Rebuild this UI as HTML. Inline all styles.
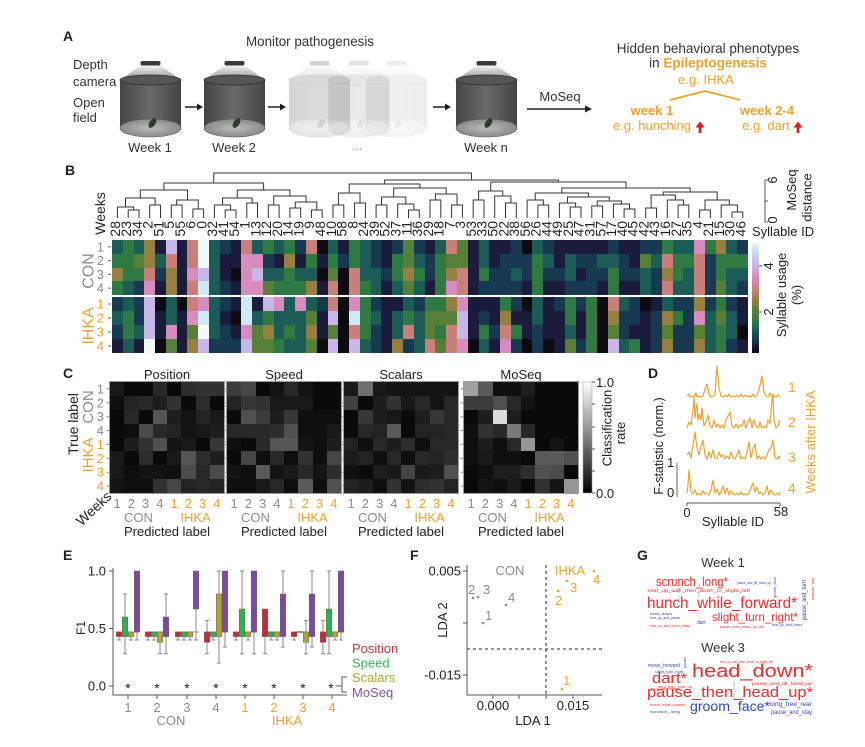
<!DOCTYPE html>
<html><head><meta charset="utf-8">
<style>
html,body{margin:0;padding:0;background:#fff}
body{width:865px;height:747px;position:relative;overflow:hidden;font-family:"Liberation Sans",Arial,sans-serif}
.hm{position:absolute;width:636px;display:grid;grid-template-columns:repeat(59,1fr);grid-template-rows:repeat(4,1fr)}
.cm{position:absolute;top:382px;width:114px;height:111px;display:grid;grid-template-columns:repeat(8,1fr);grid-template-rows:repeat(8,1fr);outline:1px solid #9a9a9a}
i{display:block}
.k0{background:#0d0a12}.k1{background:#1b1c3c}.k2{background:#173a52}.k3{background:#1b5c56}.k4{background:#2e7a42}.k5{background:#567f38}.k6{background:#957f41}.k7{background:#c9807a}.k8{background:#d88bbe}.k9{background:#c9b7ea}.ka{background:#cdeaf5}.kb{background:#f2fbf8}
.g0a{background:#0a0a0a}.g0f{background:#0f0f0f}.g14{background:#141414}.g19{background:#191919}.g1e{background:#1e1e1e}.g23{background:#232323}.g28{background:#282828}.g2d{background:#2d2d2d}.g32{background:#323232}.g37{background:#373737}.g3c{background:#3c3c3c}.g41{background:#414141}.g46{background:#464646}.g4b{background:#4b4b4b}.g50{background:#505050}.g55{background:#555555}.g5a{background:#5a5a5a}.g6e{background:#6e6e6e}.g78{background:#787878}.g96{background:#969696}.ga0{background:#a0a0a0}.gdc{background:#dcdcdc}
</style></head>
<body>
<svg width="865" height="747" style="position:absolute;left:0;top:0" font-family="'Liberation Sans',Arial,sans-serif" fill="#222">
<defs>
<linearGradient id="cone" x1="0" y1="0" x2="0" y2="1"><stop offset="0" stop-color="#f4f4f4"/><stop offset="1" stop-color="#8a8a8a"/></linearGradient>
<linearGradient id="body" x1="0" y1="0" x2="1" y2="0"><stop offset="0" stop-color="#444"/><stop offset=".5" stop-color="#6a6a6a"/><stop offset="1" stop-color="#444"/></linearGradient>
<radialGradient id="floor" cx=".5" cy=".5" r=".6"><stop offset="0" stop-color="#bcbcbc"/><stop offset="1" stop-color="#808080"/></radialGradient>
<linearGradient id="cb" x1="0" y1="0" x2="0" y2="1"><stop offset="0" stop-color="#e8f6f8"/><stop offset=".1" stop-color="#c8d4f0"/><stop offset=".2" stop-color="#c9b7ea"/><stop offset=".3" stop-color="#d88bbe"/><stop offset=".42" stop-color="#c9807a"/><stop offset=".52" stop-color="#957f41"/><stop offset=".62" stop-color="#567f38"/><stop offset=".72" stop-color="#2e7a42"/><stop offset=".8" stop-color="#1b5c56"/><stop offset=".88" stop-color="#173a52"/><stop offset=".94" stop-color="#1b1c3c"/><stop offset="1" stop-color="#000"/></linearGradient>
<linearGradient id="gb" x1="0" y1="0" x2="0" y2="1"><stop offset="0" stop-color="#fff"/><stop offset="1" stop-color="#000"/></linearGradient>
<g id="cyl">
<path d="M-10 65.5H10L30.5 80H-30.5Z" fill="url(#cone)"/>
<rect x="-10" y="61" width="20" height="4.5" rx="2" fill="#3a3a3a"/>
<rect x="-30.5" y="80" width="61" height="48" fill="url(#body)"/>
<ellipse cx="0" cy="128" rx="30.5" ry="9" fill="url(#floor)" stroke="#555" stroke-width=".6"/>
<ellipse cx="0" cy="80" rx="30.5" ry="5" fill="#555" stroke="#2c2c2c" stroke-width=".8"/>
<ellipse cx="2" cy="123" rx="3" ry="5.5" transform="rotate(35 2 123)" fill="#2f3b2f"/>
</g>
</defs>

<!-- Panel A -->
<text x="63" y="41" font-size="14" font-weight="bold">A</text>
<text x="310" y="46" font-size="13.4" text-anchor="middle" fill="#333">Monitor pathogenesis</text>
<g font-size="13" fill="#333"><text x="73" y="69">Depth</text><text x="73" y="86">camera</text><text x="73" y="107">Open</text><text x="73" y="122">field</text></g>
<use href="#cyl" x="319.5" opacity=".22"/>
<use href="#cyl" x="359" opacity=".14"/>
<use href="#cyl" x="396.5" opacity=".09"/>
<use href="#cyl" x="150.5"/>
<use href="#cyl" x="234.5"/>
<use href="#cyl" x="486.5"/>
<g font-size="13" text-anchor="middle" fill="#333"><text x="150" y="152">Week 1</text><text x="234" y="152">Week 2</text><text x="357" y="150" fill="#999">...</text><text x="486" y="152">Week n</text></g>
<g stroke="#222" stroke-width="1.5"><path d="M185 107H198M268 107H281M433 107H446M527 109H586"/></g>
<g fill="#222"><path d="M197 103.5L203 107L197 110.5Z"/><path d="M280 103.5L286 107L280 110.5Z"/><path d="M445 103.5L451 107L445 110.5Z"/><path d="M585 105.5L592 109L585 112.5Z"/></g>
<text x="560" y="101" font-size="13" text-anchor="middle" fill="#333">MoSeq</text>
<text x="708" y="53" font-size="13.5" text-anchor="middle" fill="#333">Hidden behavioral phenotypes</text>
<text x="708" y="67.5" font-size="13.5" text-anchor="middle"><tspan fill="#333">in </tspan><tspan fill="#f0a12c" font-weight="bold">Epileptogenesis</tspan></text>
<text x="706" y="84" font-size="13" text-anchor="middle" fill="#f0a12c">e.g. IHKA</text>
<polyline points="670,100 705,91 740,100" fill="none" stroke="#f0a12c" stroke-width="1.8"/>
<g font-size="13" text-anchor="middle" fill="#f0a12c"><text x="652" y="115" font-weight="bold">week 1</text><text x="767" y="115" font-weight="bold">week 2-4</text><text x="652" y="130">e.g. hunching</text><text x="766" y="130">e.g. dart</text></g>
<g fill="#e8141c"><path d="M695.5 127.5L700 121.5L704.5 127.5H701.3V133H698.7V127.5Z"/><path d="M793.5 127.5L798 121.5L802.5 127.5H799.3V133H796.7V127.5Z"/></g>

<!-- Panel B -->
<text x="65" y="175" font-size="14" font-weight="bold">B</text>
<path fill="none" stroke="#333" stroke-width="1" d="M128.2 218V210H139V218M117.4 218V207H133.6V210M149.7 218V205H160.5V218M125.5 207V198H155.1V205M171.3 218V205H182.1V218M192.9 218V209H203.6V218M176.7 205V200H198.25V209M140.3 198V190H187.5V200M225.2 218V210H236V218M214.4 218V205H230.6V210M246.8 218V203H257.5V218M222.5 205V198H252.15V203M268.3 218V205H279.1V218M289.9 218V208H300.7V218M311.4 218V210H322.2V218M295.3 208V202H316.8V210M273.7 205V196H306.05V202M237.3 198V190H289.9V196M163.9 190V183H263.6V190M333 218V205H343.8V218M354.6 218V203H365.4V218M338.4 205V193H360V203M376.1 218V205H386.9V218M408.5 218V210H419.3V218M397.7 218V204H413.9V210M381.5 205V197H405.8V204M430 218V200H440.8V218M451.6 218V205H462.4V218M435.4 200V194H457V205M393.65 197V188H446.2V194M349.2 193V184H419.9V188M473.2 218V200H484V218M505.5 218V203H516.3V218M494.7 218V196H510.9V203M478.6 200V191H502.8V196M537.9 218V205H548.7V218M527.1 218V200H543.3V205M570.2 218V207H581V218M559.4 218V203H575.6V207M591.8 218V206H602.6V218M624.1 218V209H634.9V218M613.4 218V204H629.5V209M597.2 206V201H621.45V204M567.5 203V197H609.3V201M535.2 200V193H588.4V197M645.7 218V208H656.5V218M678.1 218V205H688.8V218M667.3 218V200H683.45V205M651.1 208V195H675.4V200M699.6 218V210H710.4V218M732 218V212H742.8V218M721.2 218V205H737.4V212M705 210V200H729.3V205M663.25 195V192H717.15V200M561.8 193V188H690.2V192M490.7 191V182H626V188M384.6 184V180H558.35V182M213.75 183V173H471.5V180"/>
<text transform="translate(105,213.5)rotate(-90)" font-size="14" text-anchor="middle">Weeks</text>
<g font-size="14" text-anchor="end" fill="#222">
<text transform="translate(120.2,221)rotate(-90)">28</text><text transform="translate(131,221)rotate(-90)">23</text><text transform="translate(141.8,221)rotate(-90)">34</text><text transform="translate(152.5,221)rotate(-90)">2</text><text transform="translate(163.3,221)rotate(-90)">51</text><text transform="translate(174.1,221)rotate(-90)">5</text><text transform="translate(184.9,221)rotate(-90)">55</text><text transform="translate(195.7,221)rotate(-90)">6</text><text transform="translate(206.4,221)rotate(-90)">0</text><text transform="translate(217.2,221)rotate(-90)">32</text>
<text transform="translate(228,221)rotate(-90)">41</text><text transform="translate(238.8,221)rotate(-90)">54</text><text transform="translate(249.6,221)rotate(-90)">1</text><text transform="translate(260.3,221)rotate(-90)">13</text><text transform="translate(271.1,221)rotate(-90)">12</text><text transform="translate(281.9,221)rotate(-90)">20</text><text transform="translate(292.7,221)rotate(-90)">14</text><text transform="translate(303.5,221)rotate(-90)">19</text><text transform="translate(314.2,221)rotate(-90)">9</text><text transform="translate(325,221)rotate(-90)">48</text>
<text transform="translate(335.8,221)rotate(-90)">10</text><text transform="translate(346.6,221)rotate(-90)">58</text><text transform="translate(357.4,221)rotate(-90)">8</text><text transform="translate(368.1,221)rotate(-90)">24</text><text transform="translate(378.9,221)rotate(-90)">39</text><text transform="translate(389.7,221)rotate(-90)">52</text><text transform="translate(400.5,221)rotate(-90)">37</text><text transform="translate(411.3,221)rotate(-90)">11</text><text transform="translate(422,221)rotate(-90)">36</text><text transform="translate(432.8,221)rotate(-90)">29</text>
<text transform="translate(443.6,221)rotate(-90)">18</text><text transform="translate(454.4,221)rotate(-90)">7</text><text transform="translate(465.2,221)rotate(-90)">3</text><text transform="translate(475.9,221)rotate(-90)">53</text><text transform="translate(486.7,221)rotate(-90)">33</text><text transform="translate(497.5,221)rotate(-90)">50</text><text transform="translate(508.3,221)rotate(-90)">22</text><text transform="translate(519.1,221)rotate(-90)">38</text><text transform="translate(529.8,221)rotate(-90)">56</text><text transform="translate(540.6,221)rotate(-90)">26</text>
<text transform="translate(551.4,221)rotate(-90)">44</text><text transform="translate(562.2,221)rotate(-90)">49</text><text transform="translate(573,221)rotate(-90)">25</text><text transform="translate(583.7,221)rotate(-90)">47</text><text transform="translate(594.5,221)rotate(-90)">31</text><text transform="translate(605.3,221)rotate(-90)">57</text><text transform="translate(616.1,221)rotate(-90)">17</text><text transform="translate(626.9,221)rotate(-90)">40</text><text transform="translate(637.6,221)rotate(-90)">45</text><text transform="translate(648.4,221)rotate(-90)">42</text>
<text transform="translate(659.2,221)rotate(-90)">43</text><text transform="translate(670,221)rotate(-90)">16</text><text transform="translate(680.8,221)rotate(-90)">27</text><text transform="translate(691.5,221)rotate(-90)">35</text><text transform="translate(702.3,221)rotate(-90)">4</text><text transform="translate(713.1,221)rotate(-90)">21</text><text transform="translate(723.9,221)rotate(-90)">15</text><text transform="translate(734.7,221)rotate(-90)">30</text><text transform="translate(745.4,221)rotate(-90)">46</text>
</g>
<path d="M765 180V222M765 180H768M765 201H768M765 222H768" stroke="#555" stroke-width="1" fill="none"/>
<g font-size="13" text-anchor="middle"><text transform="translate(777,180)rotate(-90)">6</text><text transform="translate(777,220)rotate(-90)">0</text><text transform="translate(796,190)rotate(-90)">MoSeq</text><text transform="translate(811.5,197.5)rotate(-90)">distance</text></g>
<text x="752" y="236" font-size="13">Syllable ID</text>
<g font-size="13" text-anchor="end" fill="#8c8c8c"><text x="104" y="251.5">1</text><text x="104" y="265.2">2</text><text x="104" y="279">3</text><text x="104" y="292.7">4</text></g>
<g font-size="13" text-anchor="end" fill="#f0a12c"><text x="104" y="308.5">1</text><text x="104" y="322.5">2</text><text x="104" y="336.5">3</text><text x="104" y="350.5">4</text></g>
<path d="M108 246.9H111M108 260.6H111M108 274.4H111M108 288.1H111M108 304H111M108 318H111M108 332H111M108 346H111" stroke="#666"/>
<text transform="translate(93.5,271)rotate(-90)" font-size="16" text-anchor="middle" fill="#8c8c8c">CON</text>
<text transform="translate(93.5,326)rotate(-90)" font-size="16" text-anchor="middle" fill="#f0a12c">IHKA</text>
<rect x="752" y="243" width="7" height="110" fill="url(#cb)"/>
<path d="M759 266H762M759 312H762" stroke="#555"/>
<g font-size="13" text-anchor="middle"><text transform="translate(773,266)rotate(-90)">4</text><text transform="translate(773,312)rotate(-90)">2</text><text transform="translate(786,295)rotate(-90)">Syllable usage</text><text transform="translate(801,295)rotate(-90)">(%)</text></g>

<!-- Panel C -->
<text x="63" y="378" font-size="14" font-weight="bold">C</text>
<g font-size="13" text-anchor="middle"><text x="167" y="379">Position</text><text x="284" y="379">Speed</text><text x="401" y="379">Scalars</text><text x="521" y="379">MoSeq</text></g>
<g font-size="13" text-anchor="end" fill="#8c8c8c"><text x="104" y="393.4">1</text><text x="104" y="407.3">2</text><text x="104" y="421.2">3</text><text x="104" y="435.1">4</text></g>
<g font-size="13" text-anchor="end" fill="#f0a12c"><text x="104" y="448.9">1</text><text x="104" y="462.8">2</text><text x="104" y="476.7">3</text><text x="104" y="490.6">4</text></g>
<path d="M106.5 388.9H109.5M106.5 402.8H109.5M106.5 416.7H109.5M106.5 430.6H109.5M106.5 444.4H109.5M106.5 458.3H109.5M106.5 472.2H109.5M106.5 486.1H109.5M223.5 388.9H226.5M223.5 402.8H226.5M223.5 416.7H226.5M223.5 430.6H226.5M223.5 444.4H226.5M223.5 458.3H226.5M223.5 472.2H226.5M223.5 486.1H226.5M340.5 388.9H343.5M340.5 402.8H343.5M340.5 416.7H343.5M340.5 430.6H343.5M340.5 444.4H343.5M340.5 458.3H343.5M340.5 472.2H343.5M340.5 486.1H343.5M460.5 388.9H463.5M460.5 402.8H463.5M460.5 416.7H463.5M460.5 430.6H463.5M460.5 444.4H463.5M460.5 458.3H463.5M460.5 472.2H463.5M460.5 486.1H463.5" stroke="#888"/>
<text transform="translate(93,407)rotate(-90)" font-size="15" text-anchor="middle" fill="#8c8c8c">CON</text>
<text transform="translate(93,455)rotate(-90)" font-size="15" text-anchor="middle" fill="#f0a12c">IHKA</text>
<text transform="translate(78,424)rotate(-90)" font-size="14" text-anchor="middle">True label</text>
<text transform="translate(97,512)rotate(-43)" font-size="14" text-anchor="middle">Weeks</text>
<g font-size="13" text-anchor="middle" fill="#8c8c8c">
<text x="117.1" y="508">1</text><text x="131.4" y="508">2</text><text x="145.6" y="508">3</text><text x="159.9" y="508">4</text>
<text x="234.1" y="508">1</text><text x="248.4" y="508">2</text><text x="262.6" y="508">3</text><text x="276.9" y="508">4</text>
<text x="351.1" y="508">1</text><text x="365.4" y="508">2</text><text x="379.6" y="508">3</text><text x="393.9" y="508">4</text>
<text x="471.1" y="508">1</text><text x="485.4" y="508">2</text><text x="499.6" y="508">3</text><text x="513.9" y="508">4</text>
<text x="138.5" y="522">CON</text><text x="255.5" y="522">CON</text><text x="372.5" y="522">CON</text><text x="492.5" y="522">CON</text>
</g>
<g font-size="13" text-anchor="middle" fill="#f0a12c">
<text x="174.1" y="508">1</text><text x="188.4" y="508">2</text><text x="202.6" y="508">3</text><text x="216.9" y="508">4</text>
<text x="291.1" y="508">1</text><text x="305.4" y="508">2</text><text x="319.6" y="508">3</text><text x="333.9" y="508">4</text>
<text x="408.1" y="508">1</text><text x="422.4" y="508">2</text><text x="436.6" y="508">3</text><text x="450.9" y="508">4</text>
<text x="528.1" y="508">1</text><text x="542.4" y="508">2</text><text x="556.6" y="508">3</text><text x="570.9" y="508">4</text>
<text x="195.5" y="522">IHKA</text><text x="312.5" y="522">IHKA</text><text x="429.5" y="522">IHKA</text><text x="549.5" y="522">IHKA</text>
</g>
<g font-size="13" text-anchor="middle"><text x="167" y="536">Predicted label</text><text x="284" y="536">Predicted label</text><text x="401" y="536">Predicted label</text><text x="521" y="536">Predicted label</text></g>
<rect x="583" y="382" width="9" height="111" fill="url(#gb)" stroke="#999" stroke-width=".5"/>
<path d="M592 382H595M592 404H595M592 427H595M592 449H595M592 471H595M592 493H595" stroke="#555"/>
<g font-size="13"><text x="596" y="387">1.0</text><text x="596" y="498">0.0</text></g>
<g font-size="13" text-anchor="middle"><text transform="translate(611.5,428)rotate(-90)">Classification</text><text transform="translate(625,433)rotate(-90)">rate</text></g>

<!-- Panel D -->
<text x="648" y="378" font-size="14" font-weight="bold">D</text>
<g fill="none" stroke="#f0a12c" stroke-width="1.2" stroke-linejoin="round">
<polyline points="687,396 689,394 690,397 692,396 694,397 696,393 697,397 699,396 701,397 703,396 705,389 707,384 709,394 711,397 713,396 715,395 716,380 717,366 719,388 721,396 723,397 725,395 727,397 729,394 731,397 733,396 735,397 737,395 739,397 741,394 743,397 745,395 747,397 749,396 751,397 753,394 755,397 757,395 759,390 761,380 762,376 764,392 766,396 768,397 770,393 772,397 774,396 776,397 778,395 780,397"/>
<polyline points="687,428 689,422 691,425 693,410 694,398 695,418 696,408 697,404 698,420 699,414 701,420 702,408 704,426 706,422 708,415 710,426 712,428 714,420 716,427 718,424 720,428 722,425 724,428 726,420 728,416 730,412 732,426 734,428 736,424 738,428 740,425 742,426 744,420 746,428 748,422 750,418 752,428 754,420 756,426 758,428 760,422 762,428 764,426 766,428 768,420 770,424 772,400 773,394 774,420 776,428 778,426 780,420"/>
<polyline points="687,455 689,452 691,458 693,445 695,432 697,448 699,455 701,446 703,440 705,455 707,459 709,452 711,458 713,450 715,458 717,459 719,452 721,457 723,455 725,459 727,456 729,459 731,452 733,458 735,459 737,455 739,450 741,459 743,457 745,459 747,452 749,442 751,458 753,449 755,444 757,459 759,456 761,459 763,457 765,459 767,455 769,450 771,448 773,440 775,458 777,459 779,456 780,459"/>
<polyline points="687,493 688,485 689,470 690,480 691,492 693,494 695,490 697,495 699,493 701,495 703,491 705,494 707,493 709,495 711,490 713,480 715,493 717,489 719,495 721,492 723,486 725,494 727,488 729,495 731,491 733,494 735,495 737,493 739,495 741,492 743,495 745,494 747,495 749,493 751,488 753,483 755,492 757,487 759,494 761,492 763,495 765,493 767,486 769,495 771,490 773,494 775,495 777,493 779,495 780,492"/>
</g>
<g font-size="14" fill="#f0a12c"><text x="788" y="392">1</text><text x="788" y="427">2</text><text x="788" y="462">3</text><text x="788" y="493">4</text></g>
<text transform="translate(815,442)rotate(-90)" font-size="13" text-anchor="middle" fill="#f0a12c">Weeks after IHKA</text>
<path d="M677 463V497" stroke="#666" stroke-width="1"/>
<g font-size="13"><text x="667" y="467">1</text><text x="667" y="497">0</text></g>
<text transform="translate(663,446)rotate(-90)" font-size="12.5" text-anchor="middle">F-statistic (norm.)</text>
<path d="M687 503H780M687 503V506M780 503V506" stroke="#555" fill="none"/>
<g font-size="13" text-anchor="middle"><text x="687" y="517">0</text><text x="781" y="516">58</text><text x="733" y="526">Syllable ID</text></g>

<!-- Panel E -->
<text x="63" y="560" font-size="14" font-weight="bold">E</text>
<path d="M113 568V695H347M109 571H113M109 628.5H113M109 686H113M128 695V699M157 695V699M187 695V699M216 695V699M245 695V699M274 695V699M303 695V699M332 695V699" stroke="#555" fill="none"/>
<g font-size="13" text-anchor="end"><text x="106" y="575.5">1.0</text><text x="106" y="633">0.5</text><text x="106" y="690.5">0.0</text></g>
<text transform="translate(85,628)rotate(-90)" font-size="12" text-anchor="middle">F1</text>
<path stroke="#8a8a8a" fill="none" stroke-width="1" d="M116 632H140M145 632H169M175 632H199M204 632H228M233 632H257M262 632H286M291 632H315M320 632H344M119 636.6V640M117 640H121M125 617V594M123 594H127M125 636.6V653.8M123 653.8H127M131 636.6V640M129 640H133M137 632V640M135 640H139M148 636.6V640M146 640H150M154 636.6V640M152 640H156M160 642.3V653.8M158 653.8H162M166 617V594M164 594H168M166 636.6V653.8M164 653.8H168M178 636.6V640M176 640H180M184 636.6V640M182 640H186M190 636.6V640M188 640H192M196 609V640M194 640H198M207 632V620.5M205 620.5H209M207 642.3V653.8M205 653.8H209M213 636.6V640M211 640H215M219 594V571M217 571H221M219 636.6V663M217 663H221M225 632V647M223 647H227M236 636.6V640M234 640H238M242 609V571M240 571H244M242 636.6V653.8M240 653.8H244M248 636.6V640M246 640H250M254 632V653.8M252 653.8H256M265 636.6V653.8M263 653.8H267M271 636.6V640M269 640H273M277 636.6V640M275 640H279M283 594V571M281 571H285M283 636.6V647M281 647H285M294 636.6V640M292 640H296M306 632V620.5M304 620.5H308M306 642.3V653.8M304 653.8H308M312 594V571M310 571H314M312 636.6V647M310 647H314M323 632V620.5M321 620.5H325M323 642.3V653.8M321 653.8H325M329 609V571M327 571H331M329 636.6V653.8M327 653.8H331M335 636.6V640M333 640H337M341 632V640M339 640H343"/>
<g stroke="#666" stroke-width=".5">
<g fill="#c8283a"><rect x="116.25" y="632" width="5.5" height="4.6"/><rect x="145.25" y="632" width="5.5" height="4.6"/><rect x="175.25" y="632" width="5.5" height="4.6"/><rect x="204.25" y="632" width="5.5" height="10.3"/><rect x="233.25" y="632" width="5.5" height="4.6"/><rect x="262.25" y="609" width="5.5" height="27.6"/><rect x="291.25" y="632" width="5.5" height="4.6"/><rect x="320.25" y="632" width="5.5" height="10.3"/></g>
<g fill="#2fb04f"><rect x="122.25" y="617" width="5.5" height="19.6"/><rect x="151.25" y="632" width="5.5" height="4.6"/><rect x="181.25" y="632" width="5.5" height="4.6"/><rect x="210.25" y="632" width="5.5" height="4.6"/><rect x="239.25" y="609" width="5.5" height="27.6"/><rect x="268.25" y="632" width="5.5" height="4.6"/><rect x="297.25" y="631.5" width="5.5" height="1"/><rect x="326.25" y="609" width="5.5" height="27.6"/></g>
<g fill="#b3a534"><rect x="128.25" y="632" width="5.5" height="4.6"/><rect x="157.25" y="632" width="5.5" height="10.3"/><rect x="187.25" y="632" width="5.5" height="4.6"/><rect x="216.25" y="594" width="5.5" height="42.6"/><rect x="245.25" y="632" width="5.5" height="4.6"/><rect x="274.25" y="632" width="5.5" height="4.6"/><rect x="303.25" y="632" width="5.5" height="10.3"/><rect x="332.25" y="632" width="5.5" height="4.6"/></g>
<g fill="#7f4a9e"><rect x="134.25" y="571" width="5.5" height="61"/><rect x="163.25" y="617" width="5.5" height="19.6"/><rect x="193.25" y="571" width="5.5" height="38"/><rect x="222.25" y="571" width="5.5" height="61"/><rect x="251.25" y="571" width="5.5" height="61"/><rect x="280.25" y="594" width="5.5" height="42.6"/><rect x="309.25" y="594" width="5.5" height="42.6"/><rect x="338.25" y="571" width="5.5" height="61"/></g>
</g>
<g font-size="14" text-anchor="middle"><text x="128" y="693">*</text><text x="157" y="693">*</text><text x="187" y="693">*</text><text x="216" y="693">*</text><text x="245" y="693">*</text><text x="274" y="693">*</text><text x="303" y="693">*</text><text x="331" y="693">*</text></g>
<path d="M336 686H342M347 677H342V692H347" stroke="#777" stroke-width="1.2" fill="none"/>
<g font-size="13" text-anchor="middle" fill="#8c8c8c"><text x="128" y="712">1</text><text x="157" y="712">2</text><text x="187" y="712">3</text><text x="216" y="712">4</text><text x="171" y="725">CON</text></g>
<g font-size="13" text-anchor="middle" fill="#f0a12c"><text x="245" y="712">1</text><text x="274" y="712">2</text><text x="303" y="712">3</text><text x="332" y="712">4</text><text x="287" y="725">IHKA</text></g>
<g font-size="13"><text x="352" y="653" fill="#c0343f">Position</text><text x="352" y="667.5" fill="#36b44f">Speed</text><text x="352" y="682" fill="#b0a836">Scalars</text><text x="352" y="697" fill="#8451a3">MoSeq</text></g>

<!-- Panel F -->
<text x="410" y="560" font-size="14" font-weight="bold">F</text>
<path d="M467 565V695H602M463 571H467M463 623H467M463 675H467M493 695V699M519 695V699M546 695V699M573 695V699" stroke="#555" fill="none"/>
<path d="M546 565V695M467 649H602" stroke="#555" stroke-width="1.3" stroke-dasharray="3,3" fill="none"/>
<g font-size="13" text-anchor="end"><text x="461" y="575.5">0.005</text><text x="461" y="679.5">-0.015</text></g>
<g font-size="13" text-anchor="middle"><text x="493" y="710">0.000</text><text x="573" y="710">0.015</text><text x="533" y="725">LDA 1</text></g>
<text transform="translate(447,620)rotate(-90)" font-size="13" text-anchor="middle">LDA 2</text>
<g fill="#8c8c8c"><circle cx="473" cy="598" r="1.3"/><circle cx="478" cy="597" r="1.3"/><circle cx="506" cy="605" r="1.3"/><circle cx="483" cy="623" r="1.3"/></g>
<g font-size="13" fill="#8c8c8c"><text x="468" y="594">2</text><text x="483" y="594">3</text><text x="508" y="602">4</text><text x="485" y="620">1</text><text x="510" y="575" text-anchor="middle">CON</text></g>
<g fill="#f0a12c"><circle cx="594" cy="571" r="1.3"/><circle cx="567" cy="581" r="1.3"/><circle cx="558" cy="591" r="1.3"/><circle cx="562" cy="689" r="1.3"/></g>
<g font-size="13" fill="#f0a12c"><text x="593" y="584">4</text><text x="570" y="592">3</text><text x="555" y="605">2</text><text x="563" y="685">1</text><text x="570" y="575" text-anchor="middle">IHKA</text></g>

<!-- Panel G -->
<text x="637" y="560" font-size="14" font-weight="bold">G</text>
<g font-size="13" text-anchor="middle" fill="#333"><text x="723" y="567">Week 1</text><text x="723" y="652">Week 3</text></g>
<g fill="#ee2a2a">
<text x="656" y="586" font-size="12.5" textLength="72" lengthAdjust="spacingAndGlyphs">scrunch_long*</text>
<text x="648" y="592" font-size="4.5" textLength="102" lengthAdjust="spacingAndGlyphs">rear_up_wall_then_down_to_slight_left</text>
<text x="647" y="608" font-size="15.4" textLength="150" lengthAdjust="spacingAndGlyphs">hunch_while_forward*</text>
<text x="712" y="621" font-size="12" textLength="86" lengthAdjust="spacingAndGlyphs">slight_turn_right*</text>
<text x="650" y="627" font-size="3.5" textLength="40" lengthAdjust="spacingAndGlyphs">rear_up_and_move_away</text>
<text x="720" y="628" font-size="3.5" textLength="44" lengthAdjust="spacingAndGlyphs">pause_then_head_up_left</text>
<text x="812" y="578" font-size="4" transform="rotate(90 812 578)">fast_forward</text>
<text x="692" y="677" font-size="18" textLength="121" lengthAdjust="spacingAndGlyphs">head_down*</text>
<text x="652" y="683" font-size="15" textLength="35" lengthAdjust="spacingAndGlyphs">dart*</text>
<text x="647" y="697" font-size="15" textLength="166" lengthAdjust="spacingAndGlyphs">pause_then_head_up*</text>
<text x="720" y="663" font-size="3.5" textLength="53" lengthAdjust="spacingAndGlyphs">rear_up_wall_then_down_to_slight_left</text>
<text x="658" y="688" font-size="4" textLength="34" lengthAdjust="spacingAndGlyphs">long_high_rear_up</text>
<text x="752" y="685" font-size="4.5" textLength="60" lengthAdjust="spacingAndGlyphs">pause_and_tilt_head_up</text>
<text x="650" y="706" font-size="4" textLength="35" lengthAdjust="spacingAndGlyphs">hunch_while_forward</text>
<text x="650" y="690" font-size="3.5" textLength="30" lengthAdjust="spacingAndGlyphs">rear_up_and_move_away</text>
</g>
<g fill="#2d4ab0">
<text x="737" y="584" font-size="4" textLength="34" lengthAdjust="spacingAndGlyphs">pause_and_tilt_head_up</text>
<text x="697" y="624" font-size="5">dart</text>
<text x="650" y="615" font-size="3.5" textLength="22" lengthAdjust="spacingAndGlyphs">head_down</text>
<text x="650" y="619" font-size="3.5" textLength="30" lengthAdjust="spacingAndGlyphs">rear_up_and_pause</text>
<text x="806" y="620" font-size="6" transform="rotate(-90 806 620)" textLength="40" lengthAdjust="spacingAndGlyphs">pause_and_turn</text>
<text x="776" y="598" font-size="4" transform="rotate(-90 776 598)">groom_face</text>
<text x="772" y="626" font-size="3.5" textLength="30" lengthAdjust="spacingAndGlyphs">rear_up_and_lower</text>
<text x="648" y="667" font-size="5" textLength="32" lengthAdjust="spacingAndGlyphs">move_forward</text>
<text x="690" y="711" font-size="14" textLength="80" lengthAdjust="spacingAndGlyphs">groom_face*</text>
<text x="770" y="706" font-size="6" textLength="42" lengthAdjust="spacingAndGlyphs">long_free_rear</text>
<text x="771" y="714" font-size="6" textLength="41" lengthAdjust="spacingAndGlyphs">pause_and_stay</text>
<text x="650" y="713" font-size="3.5" textLength="30" lengthAdjust="spacingAndGlyphs">scrunch_long</text>
<text x="655" y="673" font-size="3.5" textLength="28" lengthAdjust="spacingAndGlyphs">slight_turn_right</text>
<text x="686" y="668" font-size="4" transform="rotate(-90 686 668)">pause</text>
</g>
<g fill="#a8a8b8"><text x="700" y="597" font-size="4" transform="rotate(-90 700 597)">rear_up</text><text x="680" y="602" font-size="4" transform="rotate(-90 680 602)">turn_left</text><text x="735" y="700" font-size="4" transform="rotate(-90 735 700)">sniff_down</text></g>
</svg>

<div class="hm" style="left:112px;top:240px;height:55px">
<i class=k3></i><i class=k4></i><i class=k3></i><i class=k6></i><i class=k1></i><i class=k9></i><i class=k1></i><i class=k7></i><i class=kb></i><i class=k3></i><i class=k2></i><i class=k1></i><i class=k7></i><i class=k3></i><i class=k4></i><i class=k3></i><i class=k4></i><i class=k2></i><i class=k7></i><i class=k0></i><i class=k3></i><i class=k1></i><i class=k4></i><i class=k3></i><i class=k2></i><i class=k1></i><i class=k2></i><i class=k5></i><i class=k2></i><i class=k1></i><i class=k3></i><i class=k7></i><i class=k5></i><i class=k1></i><i class=k3></i><i class=k1></i><i class=k1></i><i class=k2></i><i class=k0></i><i class=k3></i><i class=k2></i><i class=k1></i><i class=k1></i><i class=k1></i><i class=k1></i><i class=k1></i><i class=k2></i><i class=k1></i><i class=k1></i><i class=k2></i><i class=k2></i><i class=k4></i><i class=k3></i><i class=k3></i><i class=k8></i><i class=k4></i><i class=k6></i><i class=k3></i><i class=k2></i>
<i class=k4></i><i class=k4></i><i class=k5></i><i class=k6></i><i class=k3></i><i class=k7></i><i class=k1></i><i class=k7></i><i class=kb></i><i class=k3></i><i class=k1></i><i class=k1></i><i class=k8></i><i class=k8></i><i class=k2></i><i class=k1></i><i class=k6></i><i class=k1></i><i class=k4></i><i class=k1></i><i class=k4></i><i class=k2></i><i class=k4></i><i class=k3></i><i class=k2></i><i class=k1></i><i class=k4></i><i class=k5></i><i class=k3></i><i class=k2></i><i class=k4></i><i class=k5></i><i class=k5></i><i class=k1></i><i class=k3></i><i class=k1></i><i class=k2></i><i class=k2></i><i class=k2></i><i class=k4></i><i class=k3></i><i class=k1></i><i class=k3></i><i class=k2></i><i class=k2></i><i class=k3></i><i class=k3></i><i class=k2></i><i class=k1></i><i class=k5></i><i class=k3></i><i class=k7></i><i class=k4></i><i class=k4></i><i class=k7></i><i class=k2></i><i class=k4></i><i class=k4></i><i class=k4></i>
<i class=k6></i><i class=k4></i><i class=k4></i><i class=k7></i><i class=k2></i><i class=k6></i><i class=k1></i><i class=k8></i><i class=k9></i><i class=k3></i><i class=k1></i><i class=k0></i><i class=k8></i><i class=k9></i><i class=k3></i><i class=k3></i><i class=k4></i><i class=k3></i><i class=k3></i><i class=k0></i><i class=k5></i><i class=k0></i><i class=k7></i><i class=k3></i><i class=k3></i><i class=k2></i><i class=k4></i><i class=k6></i><i class=k4></i><i class=k2></i><i class=k4></i><i class=k6></i><i class=k7></i><i class=k1></i><i class=k4></i><i class=k2></i><i class=k2></i><i class=k3></i><i class=k2></i><i class=k4></i><i class=k2></i><i class=k2></i><i class=k3></i><i class=k1></i><i class=k2></i><i class=k2></i><i class=k4></i><i class=k2></i><i class=k2></i><i class=k3></i><i class=k2></i><i class=k6></i><i class=k4></i><i class=k3></i><i class=k7></i><i class=k2></i><i class=k4></i><i class=k3></i><i class=k3></i>
<i class=k4></i><i class=k3></i><i class=k2></i><i class=k8></i><i class=k1></i><i class=k6></i><i class=k1></i><i class=k7></i><i class=ka></i><i class=k3></i><i class=k2></i><i class=k1></i><i class=k8></i><i class=k8></i><i class=k5></i><i class=k4></i><i class=k4></i><i class=k4></i><i class=k6></i><i class=k1></i><i class=k7></i><i class=k0></i><i class=k7></i><i class=k4></i><i class=k3></i><i class=k1></i><i class=k3></i><i class=k5></i><i class=k3></i><i class=k1></i><i class=k4></i><i class=k8></i><i class=k7></i><i class=k1></i><i class=k2></i><i class=k2></i><i class=k2></i><i class=k2></i><i class=k1></i><i class=k4></i><i class=k1></i><i class=k1></i><i class=k2></i><i class=k2></i><i class=k2></i><i class=k1></i><i class=k4></i><i class=k1></i><i class=k1></i><i class=k3></i><i class=k2></i><i class=k7></i><i class=k3></i><i class=k3></i><i class=k7></i><i class=k2></i><i class=k5></i><i class=k3></i><i class=k2></i>
</div>
<div class="hm" style="left:112px;top:297px;height:56px">
<i class=k2></i><i class=k3></i><i class=k2></i><i class=k9></i><i class=k0></i><i class=k3></i><i class=k0></i><i class=k7></i><i class=k8></i><i class=k3></i><i class=k2></i><i class=k1></i><i class=ka></i><i class=k1></i><i class=k9></i><i class=k8></i><i class=k3></i><i class=k8></i><i class=k3></i><i class=k2></i><i class=k7></i><i class=k0></i><i class=k8></i><i class=k4></i><i class=k2></i><i class=k1></i><i class=k1></i><i class=k3></i><i class=k2></i><i class=k4></i><i class=k4></i><i class=k6></i><i class=k8></i><i class=k1></i><i class=k1></i><i class=k1></i><i class=k4></i><i class=k2></i><i class=k0></i><i class=k3></i><i class=k1></i><i class=k2></i><i class=k4></i><i class=k2></i><i class=k4></i><i class=k0></i><i class=k7></i><i class=k3></i><i class=k2></i><i class=k0></i><i class=k1></i><i class=k3></i><i class=k2></i><i class=k2></i><i class=k6></i><i class=k2></i><i class=k4></i><i class=k2></i><i class=k1></i>
<i class=k3></i><i class=k4></i><i class=k2></i><i class=k9></i><i class=k1></i><i class=k3></i><i class=k1></i><i class=k8></i><i class=ka></i><i class=k3></i><i class=k1></i><i class=k0></i><i class=ka></i><i class=k3></i><i class=k4></i><i class=k3></i><i class=k3></i><i class=k3></i><i class=k5></i><i class=k1></i><i class=k9></i><i class=k0></i><i class=ka></i><i class=k4></i><i class=k3></i><i class=k1></i><i class=k3></i><i class=k4></i><i class=k3></i><i class=k5></i><i class=k5></i><i class=k5></i><i class=k9></i><i class=k1></i><i class=k2></i><i class=k1></i><i class=k6></i><i class=k1></i><i class=k1></i><i class=k3></i><i class=k1></i><i class=k1></i><i class=k4></i><i class=k1></i><i class=k4></i><i class=k0></i><i class=k6></i><i class=k2></i><i class=k2></i><i class=k1></i><i class=k2></i><i class=k6></i><i class=k4></i><i class=k2></i><i class=k8></i><i class=k3></i><i class=k5></i><i class=k3></i><i class=k1></i>
<i class=k2></i><i class=k4></i><i class=k3></i><i class=k9></i><i class=k1></i><i class=k8></i><i class=k1></i><i class=k5></i><i class=kb></i><i class=k3></i><i class=k2></i><i class=k1></i><i class=k8></i><i class=k5></i><i class=k6></i><i class=k3></i><i class=k4></i><i class=k3></i><i class=k6></i><i class=k1></i><i class=k5></i><i class=k0></i><i class=k7></i><i class=k4></i><i class=k2></i><i class=k1></i><i class=k3></i><i class=k7></i><i class=k3></i><i class=k5></i><i class=k4></i><i class=k7></i><i class=k9></i><i class=k1></i><i class=k4></i><i class=k2></i><i class=k7></i><i class=k4></i><i class=k1></i><i class=k2></i><i class=k1></i><i class=k1></i><i class=k3></i><i class=k1></i><i class=k4></i><i class=k0></i><i class=k5></i><i class=k2></i><i class=k1></i><i class=k1></i><i class=k2></i><i class=k5></i><i class=k2></i><i class=k2></i><i class=k5></i><i class=k3></i><i class=k4></i><i class=k3></i><i class=k0></i>
<i class=k1></i><i class=k3></i><i class=k1></i><i class=kb></i><i class=k0></i><i class=k5></i><i class=k1></i><i class=k6></i><i class=k9></i><i class=k2></i><i class=k2></i><i class=k2></i><i class=k9></i><i class=k5></i><i class=k5></i><i class=k4></i><i class=k3></i><i class=k3></i><i class=k5></i><i class=k0></i><i class=k9></i><i class=k0></i><i class=k9></i><i class=k3></i><i class=k2></i><i class=k1></i><i class=k6></i><i class=k2></i><i class=k3></i><i class=k7></i><i class=k5></i><i class=k7></i><i class=k8></i><i class=k0></i><i class=k3></i><i class=k1></i><i class=k8></i><i class=k2></i><i class=k0></i><i class=k2></i><i class=k0></i><i class=k1></i><i class=k5></i><i class=k2></i><i class=k4></i><i class=k0></i><i class=k9></i><i class=k3></i><i class=k4></i><i class=k1></i><i class=k2></i><i class=k6></i><i class=k2></i><i class=k2></i><i class=k6></i><i class=k3></i><i class=k4></i><i class=k2></i><i class=k1></i>
</div>

<div class="cm" style="left:110px">
<i class=g19></i><i class=g0a></i><i class=g0a></i><i class=g28></i><i class=g0a></i><i class=g2d></i><i class=g32></i><i class=g32></i>
<i class=g0f></i><i class=g23></i><i class=g28></i><i class=g1e></i><i class=g32></i><i class=g0a></i><i class=g2d></i><i class=g0a></i>
<i class=g0a></i><i class=g28></i><i class=g0a></i><i class=g55></i><i class=g1e></i><i class=g14></i><i class=g23></i><i class=g19></i>
<i class=g0a></i><i class=g0f></i><i class=g4b></i><i class=g28></i><i class=g23></i><i class=g14></i><i class=g19></i><i class=g1e></i>
<i class=g0a></i><i class=g1e></i><i class=g32></i><i class=g50></i><i class=g14></i><i class=g19></i><i class=g0a></i><i class=g37></i>
<i class=g19></i><i class=g0a></i><i class=g2d></i><i class=g0a></i><i class=g19></i><i class=g55></i><i class=g2d></i><i class=g1e></i>
<i class=g19></i><i class=g0f></i><i class=g14></i><i class=g14></i><i class=g0f></i><i class=g4b></i><i class=g28></i><i class=g4b></i>
<i class=g14></i><i class=g0f></i><i class=g0f></i><i class=g32></i><i class=g46></i><i class=g23></i><i class=g28></i><i class=g23></i>
</div>
<div class="cm" style="left:227px">
<i class=g3c></i><i class=g46></i><i class=g0a></i><i class=g14></i><i class=g28></i><i class=g14></i><i class=g0a></i><i class=g0a></i>
<i class=g23></i><i class=g37></i><i class=g32></i><i class=g19></i><i class=g19></i><i class=g19></i><i class=g0a></i><i class=g0a></i>
<i class=g0a></i><i class=g50></i><i class=g3c></i><i class=g1e></i><i class=g37></i><i class=g0f></i><i class=g0f></i><i class=g0f></i>
<i class=g28></i><i class=g28></i><i class=g28></i><i class=g2d></i><i class=g50></i><i class=g0f></i><i class=g0f></i><i class=g19></i>
<i class=g0f></i><i class=g0a></i><i class=g28></i><i class=g55></i><i class=g55></i><i class=g14></i><i class=g0f></i><i class=g1e></i>
<i class=g0a></i><i class=g46></i><i class=g0f></i><i class=g28></i><i class=g0f></i><i class=g32></i><i class=g0f></i><i class=g46></i>
<i class=g14></i><i class=g0f></i><i class=g5a></i><i class=g14></i><i class=g19></i><i class=g28></i><i class=g14></i><i class=g2d></i>
<i class=g0f></i><i class=g0f></i><i class=g19></i><i class=g28></i><i class=g0f></i><i class=g5a></i><i class=g0f></i><i class=g50></i>
</div>
<div class="cm" style="left:344px">
<i class=g19></i><i class=g6e></i><i class=g19></i><i class=g14></i><i class=g14></i><i class=g14></i><i class=g14></i><i class=g14></i>
<i class=g41></i><i class=g0a></i><i class=g1e></i><i class=g32></i><i class=g19></i><i class=g28></i><i class=g14></i><i class=g28></i>
<i class=g0a></i><i class=g37></i><i class=g1e></i><i class=g19></i><i class=g0a></i><i class=g1e></i><i class=g37></i><i class=g28></i>
<i class=g0a></i><i class=g28></i><i class=g23></i><i class=g5a></i><i class=g0a></i><i class=g23></i><i class=g23></i><i class=g28></i>
<i class=g23></i><i class=g0f></i><i class=g28></i><i class=g1e></i><i class=g2d></i><i class=g0f></i><i class=g28></i><i class=g28></i>
<i class=g1e></i><i class=g23></i><i class=g0f></i><i class=g28></i><i class=g0f></i><i class=g28></i><i class=g23></i><i class=g2d></i>
<i class=g0f></i><i class=g0a></i><i class=g1e></i><i class=g19></i><i class=g46></i><i class=g19></i><i class=g1e></i><i class=g50></i>
<i class=g23></i><i class=g1e></i><i class=g0f></i><i class=g32></i><i class=g14></i><i class=g2d></i><i class=g32></i><i class=g23></i>
</div>
<div class="cm" style="left:464px">
<i class=ga0></i><i class=g5a></i><i class=g0f></i><i class=g0f></i><i class=g1e></i><i class=g0a></i><i class=g0a></i><i class=g0a></i>
<i class=g3c></i><i class=g3c></i><i class=g50></i><i class=g28></i><i class=g14></i><i class=g0a></i><i class=g0a></i><i class=g0a></i>
<i class=g0a></i><i class=g1e></i><i class=gdc></i><i class=g1e></i><i class=g0a></i><i class=g0a></i><i class=g0a></i><i class=g0a></i>
<i class=g0f></i><i class=g32></i><i class=g28></i><i class=g78></i><i class=g28></i><i class=g0a></i><i class=g0a></i><i class=g0a></i>
<i class=g0f></i><i class=g1e></i><i class=g0f></i><i class=g28></i><i class=g96></i><i class=g0a></i><i class=g14></i><i class=g0a></i>
<i class=g0f></i><i class=g19></i><i class=g0f></i><i class=g0f></i><i class=g0a></i><i class=g5a></i><i class=g5a></i><i class=g50></i>
<i class=g0a></i><i class=g0f></i><i class=g1e></i><i class=g1e></i><i class=g2d></i><i class=g50></i><i class=g4b></i><i class=g0a></i>
<i class=g0a></i><i class=g14></i><i class=g0f></i><i class=g19></i><i class=g0a></i><i class=g32></i><i class=g14></i><i class=g96></i>
</div>
</body></html>
